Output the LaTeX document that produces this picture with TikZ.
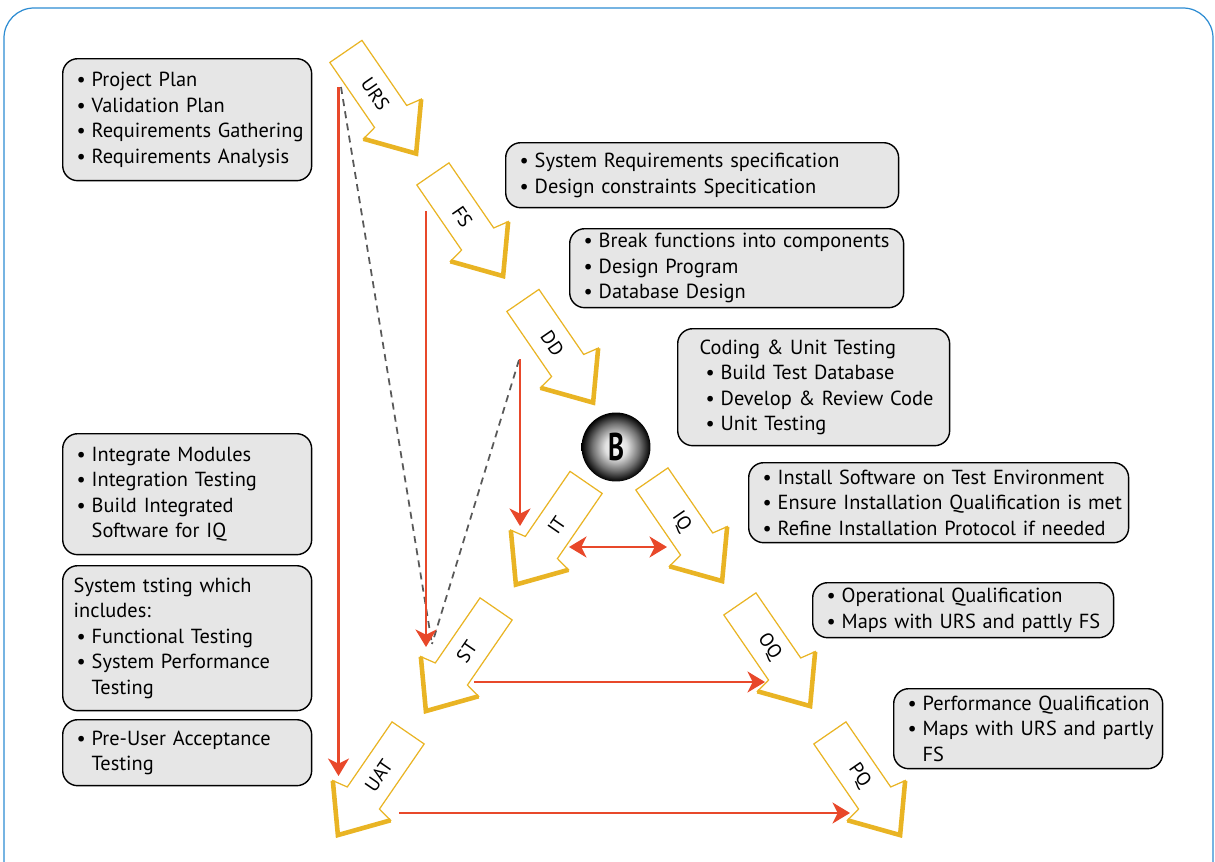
\documentclass[tikz,border=0pt]{standalone}
\usepackage{fontspec}
\setmainfont{PT Sans}
\usepackage{xcolor}
\usepackage{tikz}
\usetikzlibrary{shapes, arrows.meta}

\definecolor{vgold}{RGB}{233,180,36}
\definecolor{vred}{RGB}{232,72,42}
\definecolor{vgrey}{RGB}{230,230,230}
\definecolor{vframe}{RGB}{45,140,210}

\pgfdeclareradialshading{vball}{\pgfpoint{0bp}{0bp}}{color(0bp)=(white);
    color(8bp)=(white!88!black); color(17bp)=(black!55); color(25bp)=(black); color(50bp)=(black)}

\newcommand{\bitem}{\hspace*{0.28cm}\makebox[0.3cm][l]{\textbullet}}
\newcommand{\bmore}{\hspace*{0.58cm}}

\begin{document}
\begin{tikzpicture}[x=0.02cm, y=-0.02cm,
    notebox/.style={draw=black, line width=0.8pt, fill=vgrey, rounded corners=0.3cm,
        anchor=north west, align=left, inner xsep=0pt, inner ysep=2pt,
        font=\fontsize{11.6}{14.5}\selectfont},
    stepshape/.style={draw=vgold, line width=0.7pt, fill=white, line join=miter},
    stephead/.style={draw=vgold, line width=2.6pt, line join=miter, miter limit=4},
    steplabel/.style={font=\fontsize{11}{12}\selectfont, inner sep=0pt},
    flow/.style={draw=vred, line width=1.3pt, -{Stealth[length=10pt, width=12pt, inset=3pt]}},
    trace/.style={draw=black!65, line width=1pt, dash pattern=on 4pt off 3pt},
    ball/.style={circle, minimum size=1.38cm, inner sep=0pt, shading=vball,
        font=\bfseries\fontsize{22}{24}\selectfont}]
    \useasboundingbox (0,0) rectangle (1215,862);
    \clip (0,0) rectangle (1215,862);

    % outer frame
    \draw[vframe, line width=0.7pt, rounded corners=0.6cm] (4,8) rectangle (1213,920);

    % V-model steps
    \foreach \nm/\px/\py/\ang/\tang in {URS/381/102.5/-55.5/-55.5, FS/468/225/-55.5/-55.5,
            DD/558/351.5/-55.5/-55.5, IQ/687/530/-55.5/-55.5, OQ/775/655/-55.5/-55.5,
            PQ/865/784/-55.5/-55.5, IT/551/533.5/-124.5/55.5, ST/461/660/-124.5/55.5,
            UAT/373/784/-124.5/55.5} {
        \begin{scope}[shift={(\px,\py)}, rotate=\ang]
            \draw[stepshape] (-62,19.5) -- (17,19.5) -- (20,35) -- (62,0) -- (20,-35)
                -- (17,-19.5) -- (-62,-19.5) -- cycle;
            \draw[stephead] (20,35) -- (62,0) -- (20,-35);
            \node[steplabel, rotate=\tang] (\nm) at (-10,0) {\nm};
        \end{scope}
    }

    \node[ball] (bnode) at (616,447) {\scalebox{0.7}[1]{B}};

    % traceability
    \coordinate (ursfoot) at (338.5,87);
    \coordinate (uatin) at (338.5,776);
    \coordinate (fsfoot) at (426,211);
    \coordinate (stin) at (426,647);
    \coordinate (ddfoot) at (520,359);
    \coordinate (itin) at (520,526);
    \coordinate (itside) at (569,547);
    \coordinate (iqside) at (667,547);
    \coordinate (stout) at (474,682);
    \coordinate (oqin) at (765,682);
    \coordinate (uatout) at (399,813);
    \coordinate (pqin) at (850,813);
    \coordinate (dashtop) at (341,87);
    \coordinate (dashmid) at (519,360);
    \coordinate (dashend) at (432,644);

    \draw[trace] (dashtop) -- (dashend);
    \draw[trace] (dashmid) -- (dashend);
    \draw[flow] (ursfoot) -- (uatin);
    \draw[flow] (fsfoot) -- (stin);
    \draw[flow] (ddfoot) -- (itin);
    \draw[flow, {Stealth[length=10pt, width=12pt, inset=3pt]}-{Stealth[length=10pt, width=12pt, inset=3pt]}] (itside) -- (iqside);
    \draw[flow] (stout) -- (oqin);
    \draw[flow] (uatout) -- (pqin);

    % activity boxes
    \node[notebox, text width=4.98cm, minimum height=2.44cm] (plan) at (62,58)
        {\bitem Project Plan\\ \bitem Validation Plan\\ \bitem Requirements Gathering\\ \bitem Requirements Analysis};
    \node[notebox, text width=7.86cm, minimum height=1.30cm] (sysreq) at (505,142)
        {\bitem System Requirements specification\\ \bitem Design constraints Specitication};
    \node[notebox, text width=6.68cm, minimum height=1.58cm] (design) at (569,228)
        {\bitem Break functions into components\\ \bitem Design Program\\ \bitem Database Design};
    \node[notebox, text width=5.44cm, minimum height=2.34cm] (coding) at (677,328)
        {\hspace*{0.44cm}Coding \& Unit Testing\\ \hspace*{0.28cm}\bitem Build Test Database\\
         \hspace*{0.28cm}\bitem Develop \& Review Code\\ \hspace*{0.28cm}\bitem Unit Testing};
    \node[notebox, text width=7.60cm, minimum height=1.60cm] (install) at (748,462)
        {\bitem Install Software on Test Environment\\ \bitem Ensure Installation Qualification is met\\
         \bitem Refine Installation Protocol if needed};
    \node[notebox, text width=6.02cm, minimum height=1.10cm] (opqual) at (812,582)
        {\bitem Operational Qualification\\ \bitem Maps with URS and pattly FS};
    \node[notebox, text width=5.38cm, minimum height=1.60cm] (perfqual) at (893,688)
        {\bitem Performance Qualification\\ \bitem Maps with URS and partly\\ \bmore FS};
    \node[notebox, text width=4.98cm, minimum height=2.42cm] (integ) at (62,433)
        {\bitem Integrate Modules\\ \bitem Integration Testing\\ \bitem Build Integrated\\ \bmore Software for IQ};
    \node[notebox, text width=4.98cm, minimum height=2.90cm] (systest) at (62,565)
        {\hspace*{0.22cm}System tsting which\\ \hspace*{0.22cm}includes:\\ \bitem Functional Testing\\
         \bitem System Performance\\ \bmore Testing};
    \node[notebox, text width=4.98cm, minimum height=1.32cm] (preuat) at (62,719)
        {\bitem Pre-User Acceptance\\ \bmore Testing};
\end{tikzpicture}
\end{document}
